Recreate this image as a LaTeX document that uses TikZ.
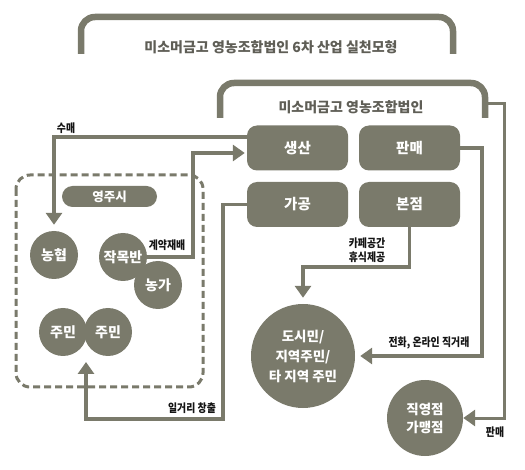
\documentclass[tikz,border=0pt]{standalone}
\usepackage{fontspec}
\setmainfont{Noto Sans CJK KR}
\newfontfamily\lblfont[FakeStretch=0.86]{Noto Sans CJK KR}
\usetikzlibrary{arrows.meta}
\definecolor{olive}{HTML}{7A7A6B}
\definecolor{titlec}{HTML}{5F5E56}
\definecolor{labelc}{HTML}{141414}
\begin{document}
\begin{tikzpicture}[x=1pt,y=-1pt,
  bracket/.style={draw=olive, line width=6.5pt, rounded corners=14pt},
  titletext/.style={text=titlec, font=\fontsize{14}{16}\selectfont\bfseries},
  box/.style={fill=olive, rounded corners=10pt, minimum width=101pt, minimum height=45pt, inner sep=0pt, text=white, font=\fontsize{14.5}{17}\selectfont\bfseries},
  dot/.style={circle, fill=olive, minimum size=48pt, inner sep=0pt, text=white, font=\fontsize{14}{16}\selectfont\bfseries},
  bigdot/.style={circle, fill=olive, inner sep=0pt, text=white, align=center, font=\fontsize{13.5}{20}\selectfont\bfseries},
  pill/.style={fill=olive, rounded corners=10.5pt, minimum width=95pt, minimum height=21pt, inner sep=0pt, text=white, font=\fontsize{12.5}{14}\selectfont\bfseries},
  link/.style={draw=olive, line width=3.5pt, -{Triangle[width=16pt,length=12pt]}},
  thinlink/.style={draw=olive, line width=3pt, -{Triangle[width=16pt,length=12pt]}},
  lbl/.style={text=labelc, font=\lblfont\fontsize{11.5}{14}\selectfont\bfseries, inner sep=1pt, align=center},
  dashbox/.style={draw=olive, line width=3pt, dash pattern=on 7pt off 4pt, rounded corners=14pt}
]
\useasboundingbox (0,0) rectangle (525,470);

% outer bracket
\coordinate (ob1) at (81,54);
\coordinate (ob2) at (81,17);
\coordinate (ob3) at (453,17);
\coordinate (ob4) at (453,54);
\draw[bracket] (ob1) -- (ob2) -- (ob3) -- (ob4);
\node[titletext] (t1) at (271,47) {미소머금고 영농조합법인 6차 산업 실천모형};

% inner bracket
\coordinate (ib1) at (220,118);
\coordinate (ib2) at (220,83);
\coordinate (ib3) at (485,83);
\coordinate (ib4) at (485,118);
\draw[bracket] (ib1) -- (ib2) -- (ib3) -- (ib4);
\node[titletext] (t2) at (351,107) {미소머금고 영농조합법인};

% dashed region
\draw[dashbox] (16,175) rectangle (203,387);

% connector bend points
\coordinate (k1) at (193,257);
\coordinate (g1) at (223,419);
\coordinate (jtip) at (86,362);
\coordinate (ib5) at (488,104);

% nodes
\node[pill] (yj) at (109.5,196.5) {영주시};
\node[dot] (nh) at (54,255) {농협};
\node[dot] (jm) at (123,257) {작목반};
\node[dot] (ng) at (158,285) {농가};
\node[dot] (r1) at (63,332) {주민};
\node[dot] (r2) at (108,332) {주민};

\node[bigdot, minimum size=104pt] (city) at (303,356) {도시민/\\지역주민/\\타 지역 주민};
\node[bigdot, minimum size=76pt, font=\fontsize{13.5}{18}\selectfont\bfseries] (direct) at (425,418) {직영점\\가맹점};

% boxes
\node[box] (prod) at (297.5,148) {생산};
\node[box] (sell) at (409.5,148) {판매};
\node[box] (proc) at (297.5,204.5) {가공};
\node[box] (store) at (409.5,204.5) {본점};

% connectors
\draw[link, shorten >=6pt] ([yshift=11pt]prod.west) -| (nh.north);
\draw[link, shorten >=2pt] (jm.east) -- (k1) |- ([yshift=-5pt]prod.west);
\draw[link] (proc.west) -| (g1) -| (jtip);
\draw[link, shorten >=6pt] (store.south) -- ++(0,40) -| (city.north);
\draw[link, shorten >=5pt] (sell.east) -- ++(22,0) |- (city.east);
\draw[thinlink] (ib5) -- ++(16,0) |- (direct.east);

% labels
\node[lbl] (l1) at (66,128) {수매};
\node[lbl] (l2) at (167,245) {계약재배};
\node[lbl] (l3) at (192,408) {일거리 창출};
\node[lbl] (l4) at (367,250) {카페공간\\휴식제공};
\node[lbl] (l5) at (429,343) {전화, 온라인 직거래};
\node[lbl] (l6) at (495,432) {판매};
\end{tikzpicture}
\end{document}
